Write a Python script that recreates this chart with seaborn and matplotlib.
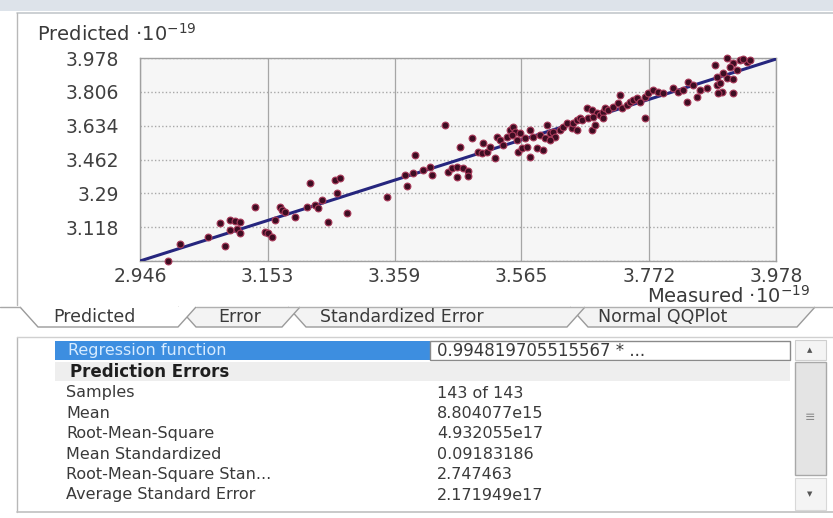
import matplotlib
matplotlib.use("Agg")
import numpy as np
import pandas as pd
import matplotlib.pyplot as plt
import seaborn as sns
from matplotlib.patches import Rectangle, Polygon
from matplotlib.lines import Line2D

# cross-validation values (units of 10^-19)
measured = [
    2.991, 3.011, 3.056, 3.076, 3.084, 3.092, 3.100, 3.108, 3.092, 3.103,
    3.108, 3.133, 3.149, 3.154, 3.160, 3.165, 3.173, 3.176, 3.181, 3.198,
    3.217, 3.222, 3.230, 3.235, 3.241, 3.251, 3.266, 3.262, 3.271, 3.282,
    3.347, 3.376, 3.379, 3.392, 3.389, 3.405, 3.417, 3.420, 3.441, 3.446,
    3.452, 3.460, 3.460, 3.470, 3.478, 3.478, 3.465, 3.485, 3.494, 3.501,
    3.509, 3.503, 3.522, 3.525, 3.530, 3.535, 3.541, 3.514, 3.546, 3.551,
    3.554, 3.550, 3.563, 3.558, 3.559, 3.566, 3.571, 3.579, 3.574, 3.579,
    3.584, 3.590, 3.595, 3.600, 3.606, 3.611, 3.603, 3.616, 3.619, 3.611,
    3.628, 3.632, 3.639, 3.647, 3.649, 3.655, 3.660, 3.655, 3.663, 3.671,
    3.673, 3.679, 3.688, 3.692, 3.697, 3.701, 3.681, 3.679, 3.684, 3.697,
    3.705, 3.713, 3.722, 3.728, 3.736, 3.741, 3.725, 3.746, 3.765, 3.752,
    3.757, 3.765, 3.770, 3.778, 3.786, 3.795, 3.811, 3.819, 3.827, 3.835,
    3.843, 3.834, 3.850, 3.855, 3.866, 3.882, 3.887, 3.890, 3.898, 3.908,
    3.908, 3.884, 3.879, 3.898, 3.908, 3.920, 3.931, 3.915, 3.903, 3.892,
    3.882, 3.924, 3.936,
]
predicted = [
    2.946, 3.032, 3.068, 3.139, 3.022, 3.154, 3.149, 3.144, 3.104, 3.109,
    3.088, 3.221, 3.093, 3.088, 3.068, 3.154, 3.221, 3.205, 3.195, 3.170,
    3.221, 3.343, 3.231, 3.215, 3.256, 3.144, 3.292, 3.358, 3.368, 3.190,
    3.271, 3.383, 3.327, 3.485, 3.393, 3.409, 3.424, 3.383, 3.637, 3.398,
    3.419, 3.424, 3.373, 3.419, 3.403, 3.378, 3.526, 3.571, 3.500, 3.495,
    3.500, 3.546, 3.470, 3.576, 3.561, 3.536, 3.576, 3.526, 3.612, 3.627,
    3.602, 3.587, 3.597, 3.561, 3.500, 3.520, 3.571, 3.475, 3.526, 3.612,
    3.576, 3.520, 3.587, 3.510, 3.637, 3.597, 3.571, 3.602, 3.576, 3.561,
    3.612, 3.627, 3.648, 3.622, 3.648, 3.663, 3.673, 3.612, 3.663, 3.724,
    3.673, 3.714, 3.698, 3.688, 3.703, 3.724, 3.678, 3.612, 3.637, 3.673,
    3.714, 3.729, 3.749, 3.724, 3.739, 3.754, 3.790, 3.764, 3.673, 3.775,
    3.754, 3.780, 3.800, 3.815, 3.805, 3.800, 3.825, 3.805, 3.815, 3.856,
    3.841, 3.754, 3.780, 3.815, 3.825, 3.841, 3.851, 3.805, 3.876, 3.800,
    3.871, 3.800, 3.942, 3.978, 3.953, 3.968, 3.958, 3.917, 3.932, 3.902,
    3.881, 3.973, 3.968,
]
slope = 0.994819705515567
axis_min, axis_max = 2.946, 3.978
x_ticks = [2.946, 3.153, 3.359, 3.565, 3.772, 3.978]
x_tick_labels = ["2.946", "3.153", "3.359", "3.565", "3.772", "3.978"]
y_ticks = [2.946, 3.118, 3.290, 3.462, 3.634, 3.806, 3.978]
y_tick_labels = ["", "3.118", "3.29", "3.462", "3.634", "3.806", "3.978"]

tab_names = ["Predicted", "Error", "Standardized Error", "Normal QQPlot"]
stat_names = ["Samples", "Mean", "Root-Mean-Square", "Mean Standardized",
              "Root-Mean-Square Stan...", "Average Standard Error"]
stat_values = ["143 of 143", "8.804077e15", "4.932055e17", "0.09183186",
               "2.747463", "2.171949e17"]

df = pd.DataFrame({"Measured": measured, "Predicted": predicted})
fit = pd.DataFrame({"Measured": [axis_min, axis_max]})
fit["Predicted"] = slope * fit["Measured"] + axis_min * (1 - slope)

sns.set_theme(style="white")
plt.rcParams["font.family"] = ["DejaVu Sans"]

W, H = 833, 518
fig = plt.figure(figsize=(W / 100, H / 100), dpi=100)
fig.patch.set_facecolor("white")


def fx(x):
    return x / W


def fy(y):
    return 1 - y / H


def text(x, y, s, **kw):
    kw.setdefault("color", "#3a3a3a")
    kw.setdefault("fontsize", 11.5)
    kw.setdefault("va", "center")
    fig.text(fx(x), fy(y), s, **kw)


def rect(x0, y0, x1, y1, **kw):
    fig.add_artist(Rectangle((fx(x0), fy(y1)), fx(x1) - fx(x0), fy(y0) - fy(y1),
                             transform=fig.transFigure, **kw))


def line(xs, ys, **kw):
    kw.setdefault("color", "#a8a8a8")
    kw.setdefault("lw", 1)
    fig.add_artist(Line2D([fx(v) for v in xs], [fy(v) for v in ys],
                          transform=fig.transFigure, **kw))


# window chrome
rect(0, 0, W, 11, facecolor="#dde3ea", edgecolor="none")
line([17, W], [13, 13], color="#c4c8cc", lw=1.2)
line([17, 17], [13, 305], color="#b8b8b8")

# main scatter plot
ax = fig.add_axes([fx(140), fy(261), fx(776) - fx(140), fy(58) - fy(261)])
ax.set_facecolor("#f6f6f6")
sns.lineplot(data=fit, x="Measured", y="Predicted", ax=ax, color="#26267e",
             lw=2.2, zorder=3)
sns.scatterplot(data=df, x="Measured", y="Predicted", ax=ax, s=24,
                color="#3d0d22", edgecolor="#a83a5a", linewidth=0.8, zorder=4,
                clip_on=False)
ax.set_xlim(axis_min, axis_max)
ax.set_ylim(axis_min, axis_max)
ax.set_xticks(x_ticks, x_tick_labels)
ax.set_yticks(y_ticks, y_tick_labels)
ax.set_xlabel("")
ax.set_ylabel("")
ax.tick_params(length=0, labelsize=13.5, colors="#404040")
ax.tick_params(axis="x", pad=4)
ax.tick_params(axis="y", pad=15)
ax.xaxis.grid(True, color="#a6a6a6", lw=0.9, ls="-")
ax.yaxis.grid(True, color="#a8a8a8", lw=1.0, ls=(0, (1, 1.6)))
ax.set_axisbelow(True)
for sp in ax.spines.values():
    sp.set_color("#a0a0a0")
    sp.set_linewidth(1)

text(37, 34, "Predicted ·10$^{-19}$", fontsize=14)
text(810, 296, "Measured ·10$^{-19}$", fontsize=14, ha="right")

# tabs along the bottom of the chart panel
tab_edges = [(20, 196), (178, 300), (288, 585), (570, 815)]
line([0, 20], [307, 307])
for i in [3, 2, 1, 0]:
    x0, x1 = tab_edges[i]
    fill = "white" if i == 0 else "#f3f3f3"
    fig.add_artist(Polygon([(fx(x0), fy(307)), (fx(x0 + 18), fy(327)),
                            (fx(x1 - 18), fy(327)), (fx(x1), fy(307))],
                           closed=False, transform=fig.transFigure,
                           facecolor=fill, edgecolor="#9a9a9a", lw=1))
line([196, W], [307, 307], color="#b0b0b0")
tab_text_x = [53, 218, 320, 598]
for name, x in zip(tab_names, tab_text_x):
    text(x, 317, name, fontsize=12.5)

# property table
line([17, 17], [337, 512], color="#b8b8b8")
line([17, W], [337, 337], color="#d0d0d0")
line([17, W], [512, 512], color="#c0c0c0", lw=1.2)
rect(55, 341, 430, 360, facecolor="#3d8ee0", edgecolor="none")
rect(430, 341, 790, 360, facecolor="white", edgecolor="#8a8a8a", lw=1)
text(68, 350.5, "Regression function", color="#d6ebff")
text(437, 350.5, "0.994819705515567 * ...", fontsize=12)
rect(55, 362, 790, 381, facecolor="#eeeeee", edgecolor="none")
text(70, 372, "Prediction Errors", fontsize=12, fontweight="bold", color="#1e1e1e")
for k, (name, val) in enumerate(zip(stat_names, stat_values)):
    yy = 393 + k * 20.4
    text(66, yy, name)
    text(437, yy, val)

# scrollbar
rect(795, 340, 826, 360, facecolor="#f4f4f4", edgecolor="#cfcfcf", lw=0.8)
rect(795, 362, 826, 475, facecolor="#e4e4e4", edgecolor="#a8a8a8", lw=1)
rect(795, 478, 826, 510, facecolor="#f4f4f4", edgecolor="#d8d8d8", lw=0.8)
text(810, 350, "▲", fontsize=5, ha="center", color="#555555")
text(810, 418, "≡", fontsize=9, ha="center", color="#8a8a8a")
text(810, 494, "▼", fontsize=5, ha="center", color="#555555")

fig.savefig("out.png", dpi=100)
